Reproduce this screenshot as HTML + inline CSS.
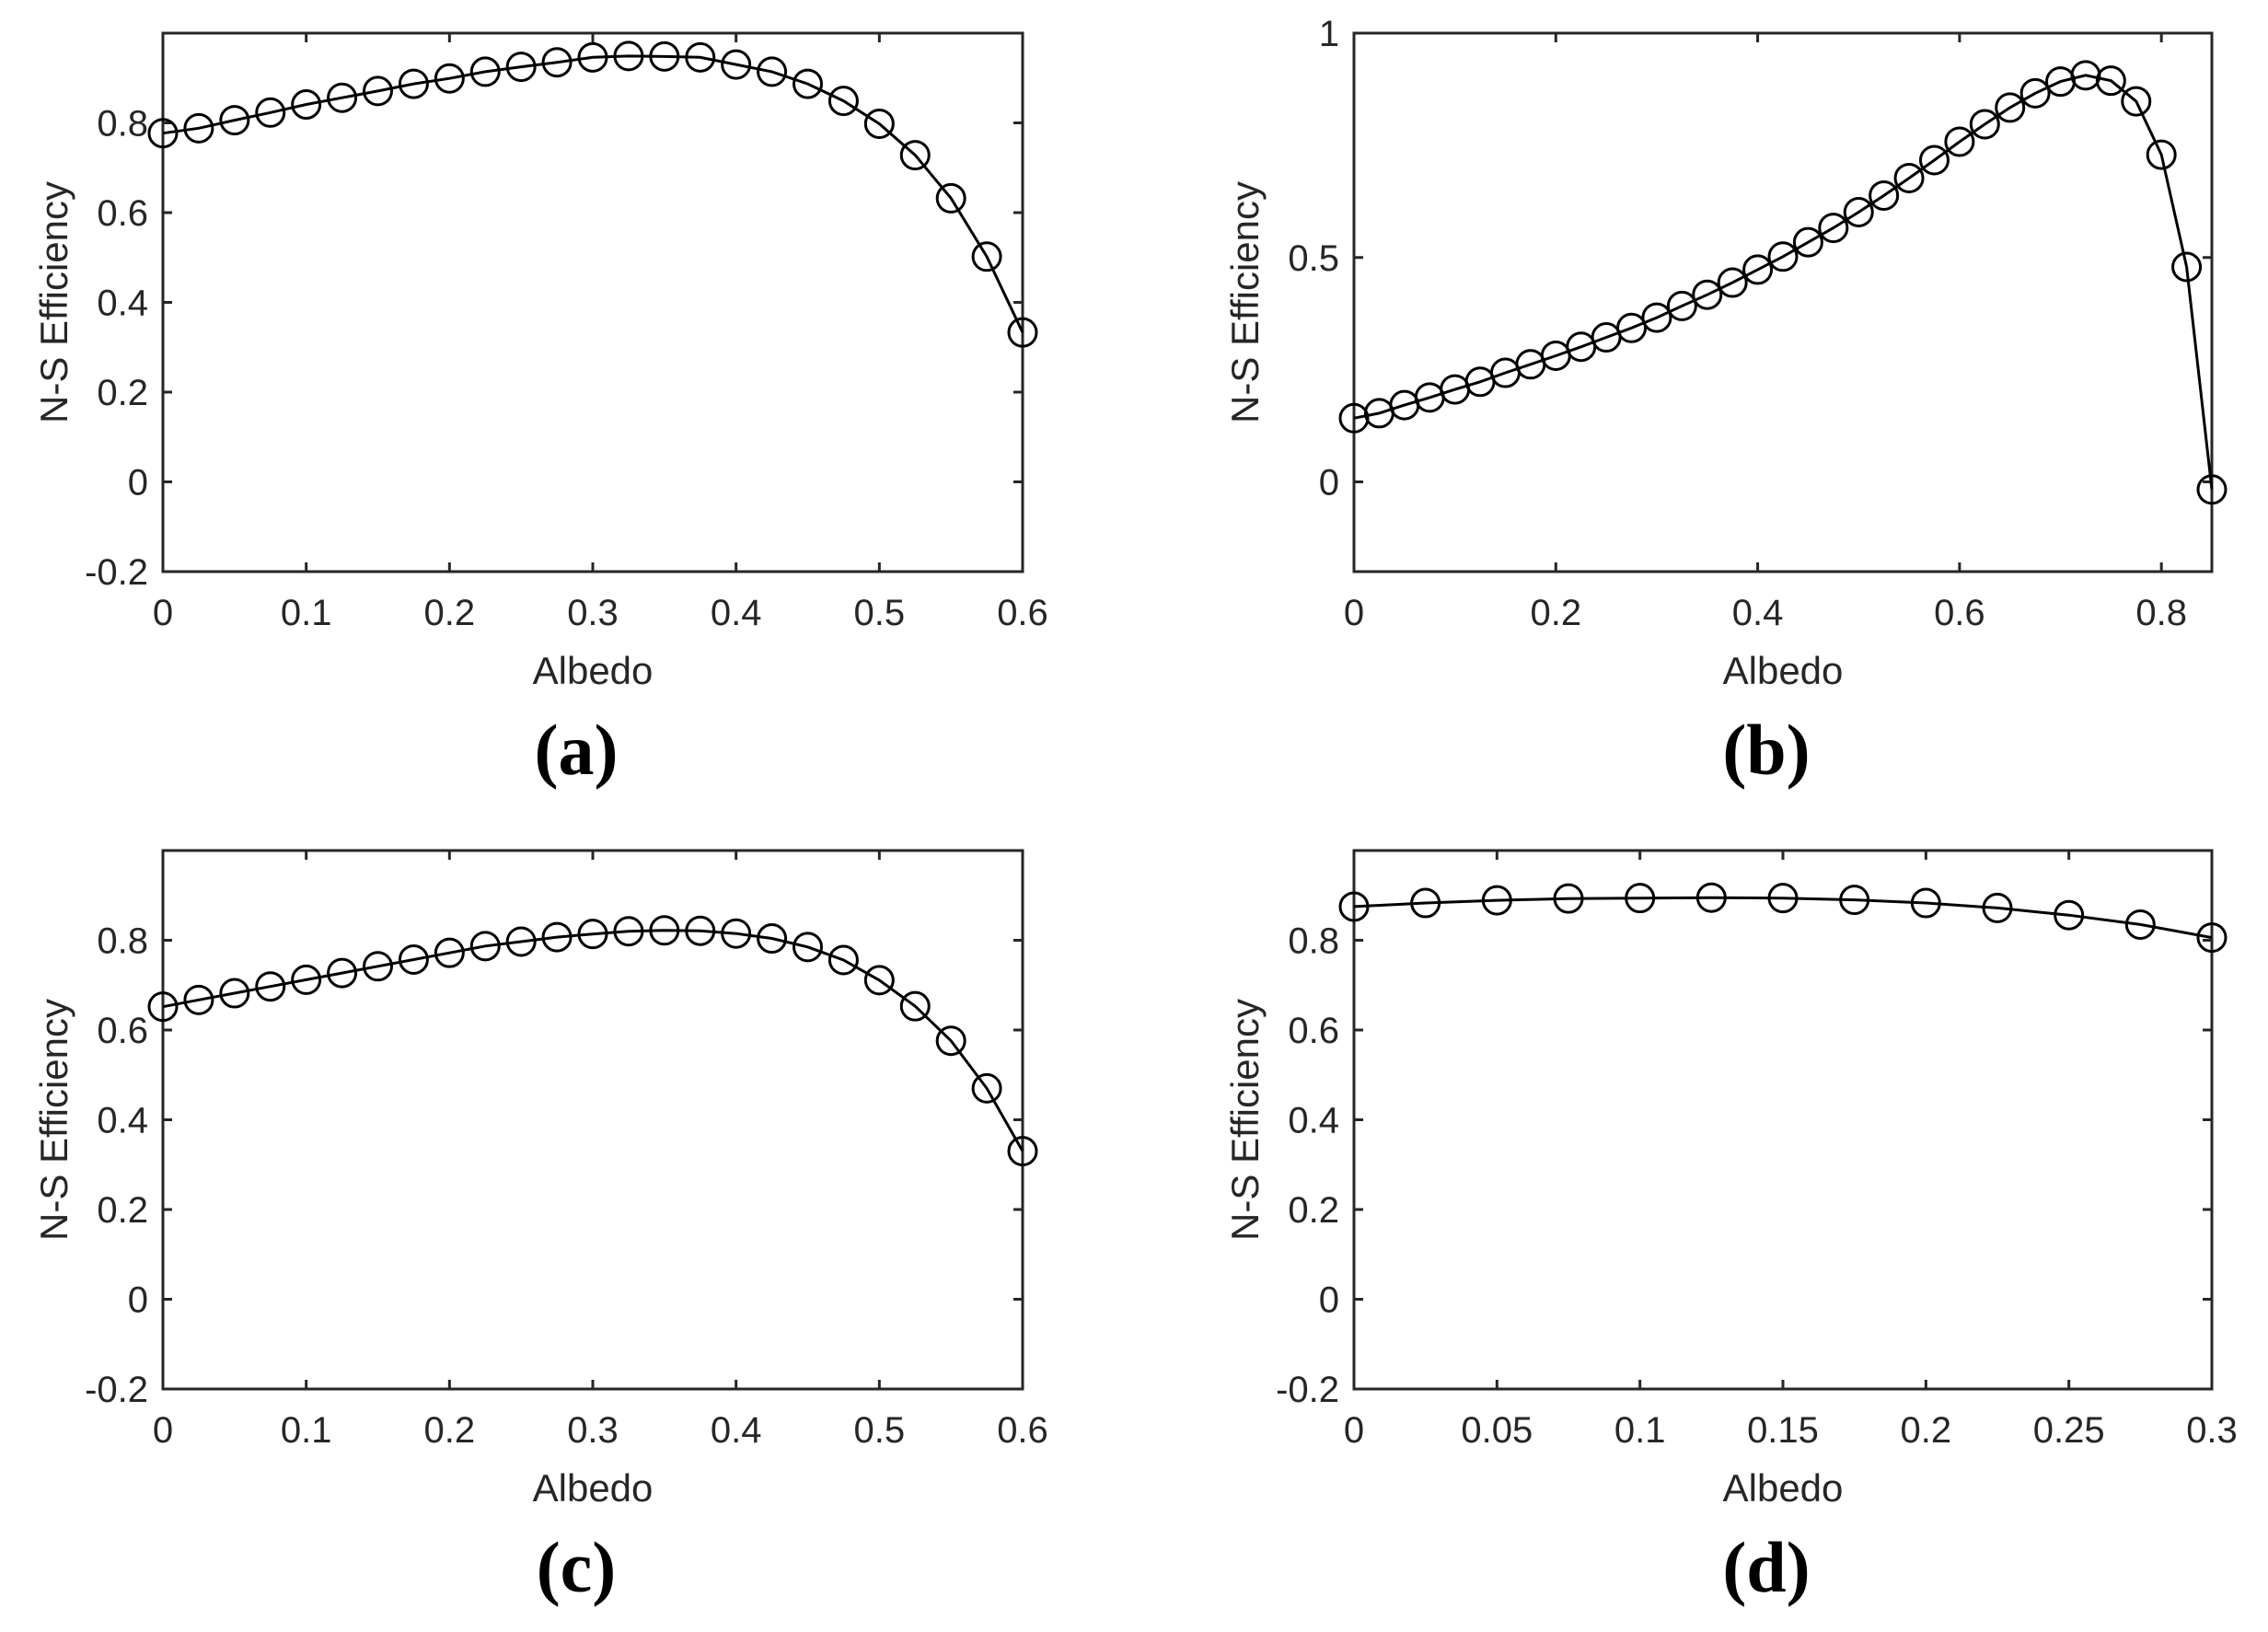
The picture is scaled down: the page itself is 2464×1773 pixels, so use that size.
<!DOCTYPE html>
<html><head><meta charset="utf-8"><style>
html,body{margin:0;padding:0;background:#fff;}
svg{display:block;}
</style></head><body>
<svg id="fig" width="2464" height="1773" viewBox="0 0 2464 1773" xmlns="http://www.w3.org/2000/svg"></svg>
<script>
const xA = [0,0.025,0.05,0.075,0.1,0.125,0.15,0.175,0.2,0.225,0.25,0.275,0.3,0.325,0.35,0.375,0.4,0.425,0.45,0.475,0.5,0.525,0.55,0.575,0.6];
const yA = [0.777,0.788,0.806,0.823,0.841,0.856,0.871,0.887,0.899,0.914,0.925,0.935,0.946,0.949,0.948,0.946,0.93,0.914,0.887,0.849,0.798,0.728,0.632,0.502,0.333];
const xB = [0,0.025,0.05,0.075,0.1,0.125,0.15,0.175,0.2,0.225,0.25,0.275,0.3,0.325,0.35,0.375,0.4,0.425,0.45,0.475,0.5,0.525,0.55,0.575,0.6,0.625,0.65,0.675,0.7,0.725,0.75,0.775,0.8,0.825,0.85];
const yB = [0.142,0.153,0.171,0.188,0.206,0.223,0.243,0.262,0.281,0.301,0.322,0.343,0.366,0.392,0.417,0.444,0.473,0.502,0.534,0.566,0.601,0.638,0.677,0.717,0.758,0.797,0.834,0.866,0.892,0.906,0.894,0.848,0.729,0.479,-0.017];
const xC = [0,0.025,0.05,0.075,0.1,0.125,0.15,0.175,0.2,0.225,0.25,0.275,0.3,0.325,0.35,0.375,0.4,0.425,0.45,0.475,0.5,0.525,0.55,0.575,0.6];
const yC = [0.652,0.667,0.682,0.697,0.712,0.727,0.742,0.757,0.772,0.787,0.797,0.807,0.814,0.82,0.822,0.821,0.815,0.804,0.785,0.756,0.711,0.653,0.576,0.47,0.33];
const xD = [0,0.025,0.05,0.075,0.1,0.125,0.15,0.175,0.2,0.225,0.25,0.275,0.3];
const yD = [0.875,0.883,0.889,0.893,0.894,0.895,0.894,0.89,0.883,0.872,0.856,0.835,0.806];
const ticksX_A = [0,0.1,0.2,0.3,0.4,0.5,0.6];
const ticksX_B = [0,0.2,0.4,0.6,0.8];
const ticksX_D = [0,0.05,0.1,0.15,0.2,0.25,0.3];
const ticksY_A = [-0.2,0,0.2,0.4,0.6,0.8];
const ticksY_B = [0,0.5,1];

const NS = "http://www.w3.org/2000/svg";
const svg = document.getElementById('fig');
function mk(tag, attrs, parent){
  const e = document.createElementNS(NS, tag);
  for (const k in attrs) e.setAttribute(k, attrs[k]);
  (parent||svg).appendChild(e);
  return e;
}
function panel(id, L, R, T, B, xmax, xs, ys, xt, yt, lab){
  const g = mk('g', {});
  
  
  const ymin = -0.2, ymax = 1.0;
  const sx = v => L + (v - 0) / xmax * (R - L);
  const sy = v => B - (v - ymin) / (ymax - ymin) * (B - T);
  const col = '#262626';
  xt.forEach(v => {
    const x = sx(v);
    const t1 = mk('line', {x1:x, x2:x, y1:B, y2:B-10, stroke:col, 'stroke-width':3}, g);
    
    
    mk('line', {x1:x, x2:x, y1:T, y2:T+10, stroke:col, 'stroke-width':3}, g);
    const tx = mk('text', {x:x, y:B+58, 'text-anchor':'middle', 'font-size':40, fill:col, 'font-family':'Liberation Sans, Arial, sans-serif'}, g);
    tx.textContent = String(v);
    
    
  });
  yt.forEach(v => {
    const y = sy(v);
    const t1 = mk('line', {x1:L, x2:L+10, y1:y, y2:y, stroke:col, 'stroke-width':3}, g);
    
    
    mk('line', {x1:R, x2:R-10, y1:y, y2:y, stroke:col, 'stroke-width':3}, g);
    const tx = mk('text', {x:L-16, y:y+14, 'text-anchor':'end', 'font-size':40, fill:col, 'font-family':'Liberation Sans, Arial, sans-serif'}, g);
    tx.textContent = String(v);
    
    
  });
  const box = mk('rect', {x:L, y:T, width:R-L, height:B-T, fill:'none', stroke:col, 'stroke-width':3}, g);
  
  
  const pts = xs.map((v,i) => sx(v).toFixed(1) + ',' + sy(ys[i]).toFixed(1)).join(' ');
  const pl = mk('polyline', {points:pts, fill:'none', stroke:'#000', 'stroke-width':3}, g);
  
  
  xs.forEach((v,i) => {
    const c = mk('circle', {cx:sx(v), cy:sy(ys[i]), r:15, fill:'none', stroke:'#000', 'stroke-width':3}, g);
    
    
  });
  const xl = mk('text', {x:(L+R)/2, y:B+122, 'text-anchor':'middle', 'font-size':42, fill:col, 'font-family':'Liberation Sans, Arial, sans-serif'}, g);
  xl.textContent = 'Albedo';
  
  
  const cy = (T+B)/2;
  const yl = mk('text', {x:0, y:0, 'text-anchor':'middle', 'font-size':42, fill:col, 'font-family':'Liberation Sans, Arial, sans-serif', transform:'translate(' + (L-104) + ',' + cy + ') rotate(-90)'}, g);
  yl.textContent = 'N-S Efficiency';
  
  
  const pt = mk('text', {x:(L+R)/2 - 18, y:B+220, 'text-anchor':'middle', 'font-size':78, 'font-weight':'bold', fill:'#000', 'font-family':'Liberation Serif, serif'}, g);
  pt.textContent = '(' + lab + ')';
  
  
}
panel('a', 177, 1111, 36, 621, 0.6, xA, yA, ticksX_A, ticksY_A, 'a');
panel('b', 1471, 2403, 36, 621, 0.85, xB, yB, ticksX_B, ticksY_B, 'b');
panel('c', 177, 1111, 924, 1509, 0.6, xC, yC, ticksX_A, ticksY_A, 'c');
panel('d', 1471, 2403, 924, 1509, 0.3, xD, yD, ticksX_D, ticksY_A, 'd');
</script>
</body></html>
